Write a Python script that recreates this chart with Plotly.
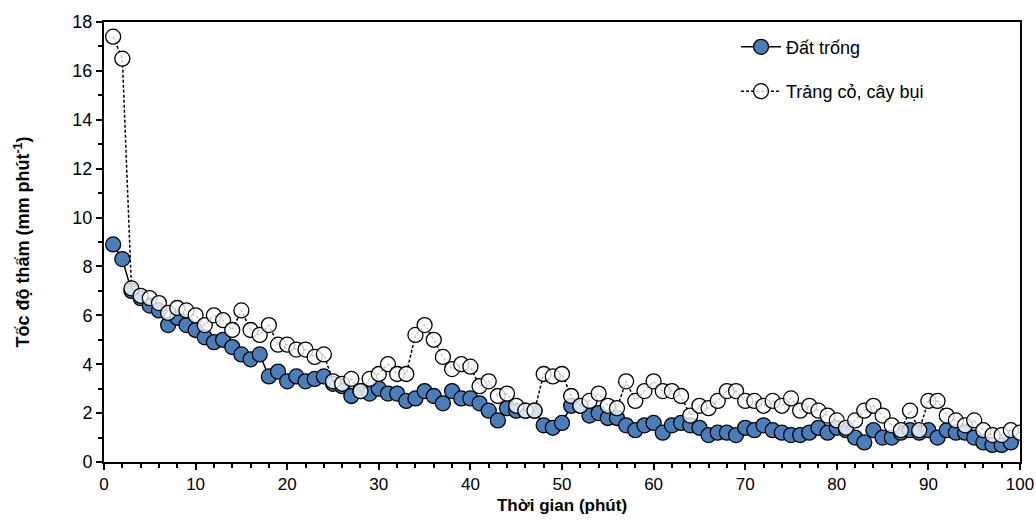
import plotly.graph_objects as go

minutes_bare = list(range(1, 100))
rate_bare = [8.9, 8.3, 7.0, 6.7, 6.4, 6.2, 5.6, 5.9, 5.6, 5.4,
             5.1, 4.9, 5.0, 4.7, 4.4, 4.2, 4.4, 3.5, 3.7, 3.3,
             3.5, 3.3, 3.4, 3.5, 3.2, 3.1, 2.7, 2.9, 2.8, 3.0,
             2.8, 2.8, 2.5, 2.6, 2.9, 2.7, 2.4, 2.9, 2.6, 2.6,
             2.4, 2.1, 1.7, 2.2, 2.1, 2.1, 2.1, 1.5, 1.4, 1.6,
             2.3, 2.3, 1.9, 2.0, 1.8, 1.8, 1.5, 1.3, 1.5, 1.6,
             1.2, 1.5, 1.6, 1.5, 1.4, 1.1, 1.2, 1.2, 1.1, 1.4,
             1.3, 1.5, 1.3, 1.2, 1.1, 1.1, 1.2, 1.4, 1.2, 1.4,
             1.3, 1.0, 0.8, 1.3, 1.0, 1.0, 1.2, 1.3, 1.2, 1.3,
             1.0, 1.3, 1.2, 1.2, 1.0, 0.8, 0.7, 0.7, 0.8]

minutes_grass = list(range(1, 101))
rate_grass = [17.4, 16.5, 7.1, 6.8, 6.7, 6.5, 6.1, 6.3, 6.2, 6.0,
              5.6, 6.0, 5.8, 5.4, 6.2, 5.4, 5.2, 5.6, 4.8, 4.8,
              4.6, 4.6, 4.3, 4.4, 3.3, 3.2, 3.4, 2.9, 3.4, 3.6,
              4.0, 3.6, 3.6, 5.2, 5.6, 5.0, 4.3, 3.8, 4.0, 3.9,
              3.1, 3.3, 2.7, 2.8, 2.3, 2.1, 2.1, 3.6, 3.5, 3.6,
              2.7, 2.3, 2.5, 2.8, 2.3, 2.2, 3.3, 2.5, 2.9, 3.3,
              2.9, 2.9, 2.7, 1.9, 2.3, 2.2, 2.5, 2.9, 2.9, 2.5,
              2.5, 2.3, 2.5, 2.3, 2.6, 2.1, 2.3, 2.1, 1.9, 1.7,
              1.4, 1.7, 2.1, 2.3, 1.9, 1.5, 1.3, 2.1, 1.3, 2.5,
              2.5, 1.9, 1.7, 1.5, 1.7, 1.3, 1.1, 1.1, 1.3, 1.2]

FONT = "Liberation Sans, Arial, sans-serif"

fig = go.Figure()
fig.add_trace(go.Scatter(
    x=minutes_bare, y=rate_bare, name="Đất trống", mode="lines+markers",
    legendgroup="a",
    line=dict(color="black", width=1.5),
    marker=dict(symbol="circle", size=15, color="#4a7ebb",
                line=dict(color="black", width=1.3)),
))
fig.add_trace(go.Scatter(
    x=minutes_grass, y=rate_grass, name="Trảng cỏ, cây bụi", mode="lines+markers",
    legendgroup="b",
    line=dict(color="black", width=1.5, dash="3px,2px"),
    marker=dict(symbol="circle", size=15, color="rgba(255,255,255,0.78)",
                line=dict(color="black", width=1.3)),
))

fig.update_layout(
    width=1036, height=522,
    margin=dict(l=104, r=16, t=22, b=60, autoexpand=False),
    paper_bgcolor="white", plot_bgcolor="white",
    font=dict(family=FONT, size=17, color="black"),
    showlegend=True,
    legend=dict(x=0.69, y=0.985, xanchor="left", yanchor="top",
                font=dict(size=18, family=FONT), bgcolor="rgba(0,0,0,0)",
                tracegroupgap=18, itemwidth=40),
    xaxis=dict(range=[0, 100], dtick=10, tick0=0, automargin=False,
               showline=True, linecolor="black", linewidth=2, mirror=True,
               ticks="outside", ticklen=6, tickwidth=2, tickcolor="black",
               minor=dict(dtick=2, ticks="outside", ticklen=4, tickwidth=1.5, tickcolor="black"),
               showgrid=False, zeroline=False,
               tickfont=dict(size=17),
               title=dict(text="<b>Thời gian (phút)</b>", font=dict(size=17), standoff=6)),
    yaxis=dict(range=[0, 18], dtick=2, tick0=0, automargin=False,
               showline=True, linecolor="black", linewidth=2, mirror=True,
               ticks="outside", ticklen=6, tickwidth=2, tickcolor="black",
               minor=dict(dtick=1, ticks="outside", ticklen=4, tickwidth=1.5, tickcolor="black"),
               showgrid=False, zeroline=False,
               tickfont=dict(size=18),
               title=dict(text="<b>Tốc độ thấm (mm phút<sup>-1</sup>)</b>",
                          font=dict(size=18), standoff=38)),
)

fig.write_html("out.html")
